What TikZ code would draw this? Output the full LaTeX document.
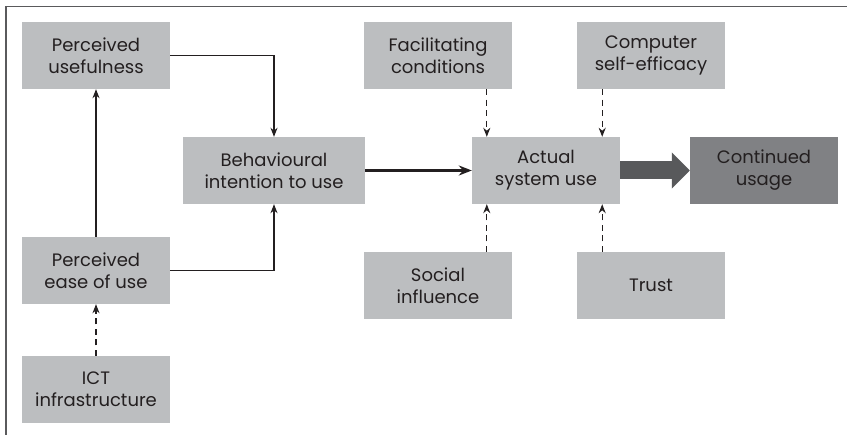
\documentclass[tikz,border=0pt]{standalone}
\usepackage{fontspec}
\setmainfont{Poppins}
\usetikzlibrary{arrows.meta, positioning}
\definecolor{boxgray}{RGB}{188, 190, 192}
\definecolor{darkbox}{RGB}{128, 129, 132}
\definecolor{arrowgray}{RGB}{88, 89, 91}
\definecolor{ink}{RGB}{35, 31, 32}
\definecolor{framegray}{RGB}{90, 90, 92}
\tikzset{
  factor/.style={fill=boxgray, minimum width=148pt, minimum height=67pt, align=center, text=ink, inner sep=2pt, font=\fontsize{18}{22}\selectfont},
  outcome/.style={factor, fill=darkbox},
  link/.style={draw=ink, line width=1.2pt, -{Stealth[length=9pt, width=7pt]}},
  dep/.style={link, dash pattern=on 6pt off 4.5pt},
  mainlink/.style={draw=ink, line width=2.2pt, -{Stealth[length=13pt, width=10pt]}},
  bigarrow/.style={draw=arrowgray, line width=18pt, -{Triangle[length=18pt, width=35pt]}}
}

\begin{document}
\begin{tikzpicture}[x=1pt, y=-1pt]
  \useasboundingbox (0,0) rectangle (847,435);
  % frame
  \draw[framegray, line width=1.5pt] (6,440) -- (6,6.5) -- (850,6.5);

  \node[factor] (pu) at (96, 55.5) {Perceived\\usefulness};
  \node[factor, minimum width=182pt] (bi) at (274, 170.5) {Behavioural\\intention to use};
  \node[factor] (peou) at (96, 270.5) {Perceived\\ease of use};
  \node[factor] (ict) at (96, 389.5) {ICT\\infrastructure};
  \node[factor] (fc) at (438, 55.5) {Facilitating\\conditions};
  \node[factor] (cse) at (651, 55.5) {Computer\\self-efficacy};
  \node[factor] (asu) at (546, 170.5) {Actual\\system use};
  \node[outcome] (cu) at (764, 170.5) {Continued\\usage};
  \node[factor] (si) at (438, 285.5) {Social\\influence};
  \node[factor] (tr) at (651, 285.5) {Trust};

  % attachment points on actual system use
  \coordinate (a1) at ([xshift=15pt]asu.north west);
  \coordinate (a2) at ([xshift=-18pt]asu.north east);
  \coordinate (b1) at ([xshift=15pt]asu.south west);
  \coordinate (b2) at ([xshift=-18pt]asu.south east);

  \draw[link] (pu.east) -| (bi.north);
  \draw[link] (peou.east) -| (bi.south);
  \draw[link] (peou.north) -- (pu.south);
  \draw[dep] (ict.north) -- (peou.south);
  \draw[mainlink] (bi.east) -- (asu.west);
  \draw[dep] (a1 |- fc.south) -- (a1);
  \draw[dep] (a2 |- cse.south) -- (a2);
  \draw[dep] (b1 |- si.north) -- (b1);
  \draw[dep] (b2 |- tr.north) -- (b2);
  \draw[bigarrow] (asu.east) -- (cu.west);
\end{tikzpicture}
\end{document}
